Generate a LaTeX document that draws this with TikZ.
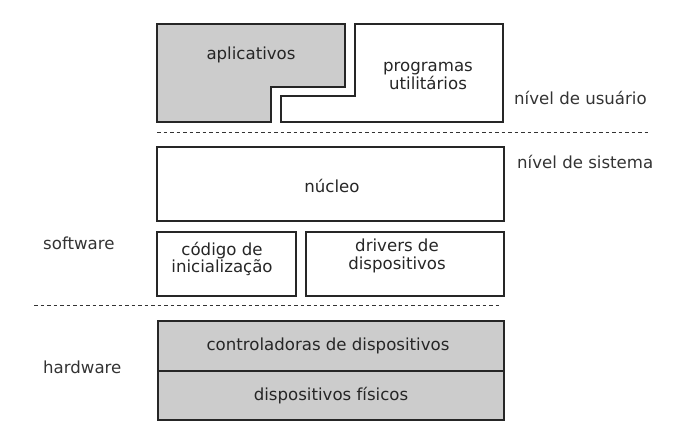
\documentclass[tikz,border=0pt]{standalone}
\usepackage{fontspec}
\setmainfont{DejaVu Sans}
\begin{document}
\begin{tikzpicture}[x=1pt,y=-1pt,
  box/.style={draw=black!85,line width=1.8pt},
  grayfill/.style={fill=black!20},
  txt/.style={font=\fontsize{16.6}{17.5}\selectfont,text=black!85,align=center,inner sep=0pt},
  lbl/.style={font=\fontsize{16.6}{17.5}\selectfont,text=black!80,anchor=west,inner sep=0pt},
  sep/.style={draw=black!80,line width=0.9pt,dash pattern=on 3.5pt off 3pt}]
\useasboundingbox (0,0) rectangle (691,438);
% user level
\draw[box,grayfill] (157,24) -- (345,24) -- (345,87) -- (271,87) -- (271,122) -- (157,122) -- cycle;
\draw[box,fill=white] (355,24) -- (503,24) -- (503,122) -- (281,122) -- (281,96) -- (355,96) -- cycle;
\node[txt] (apl) at (251,55) {aplicativos};
\node[txt] (prog) at (428,76) {programas\\utilitários};
% separators
\coordinate (s1a) at (157,132); \coordinate (s1b) at (650,132);
\draw[sep] (s1a) -- (s1b);
\coordinate (s2a) at (34,305); \coordinate (s2b) at (501,305);
\draw[sep] (s2a) -- (s2b);
% system level
\node[box,fill=white,minimum width=347pt,minimum height=74pt,inner sep=0pt] (nuc) at (330.5,184) {};
\node[txt] at (332,186) {núcleo};
\node[box,fill=white,minimum width=139pt,minimum height=64pt,inner sep=0pt] (cod) at (226.5,264) {};
\node[txt] at (222,259) {código de\\inicialização};
\node[box,fill=white,minimum width=198pt,minimum height=64pt,inner sep=0pt] (drv) at (405,264) {};
\node[txt] at (397,256) {drivers de\\dispositivos};
% hardware
\node[box,grayfill,minimum width=346pt,minimum height=50pt,inner sep=0pt] (ctl) at (331,346) {};
\node[box,grayfill,minimum width=346pt,minimum height=49pt,inner sep=0pt] (dev) at (331,395.5) {};
\node[txt] at (328,346) {controladoras de dispositivos};
\node[txt] at (331,395.5) {dispositivos físicos};
% labels
\node[lbl] (lu) at (514,98) {nível de usuário};
\node[lbl] (ls) at (517,162) {nível de sistema};
\node[lbl] (lsw) at (43,243) {software};
\node[lbl] (lhw) at (43,367) {hardware};
\end{tikzpicture}
\end{document}
